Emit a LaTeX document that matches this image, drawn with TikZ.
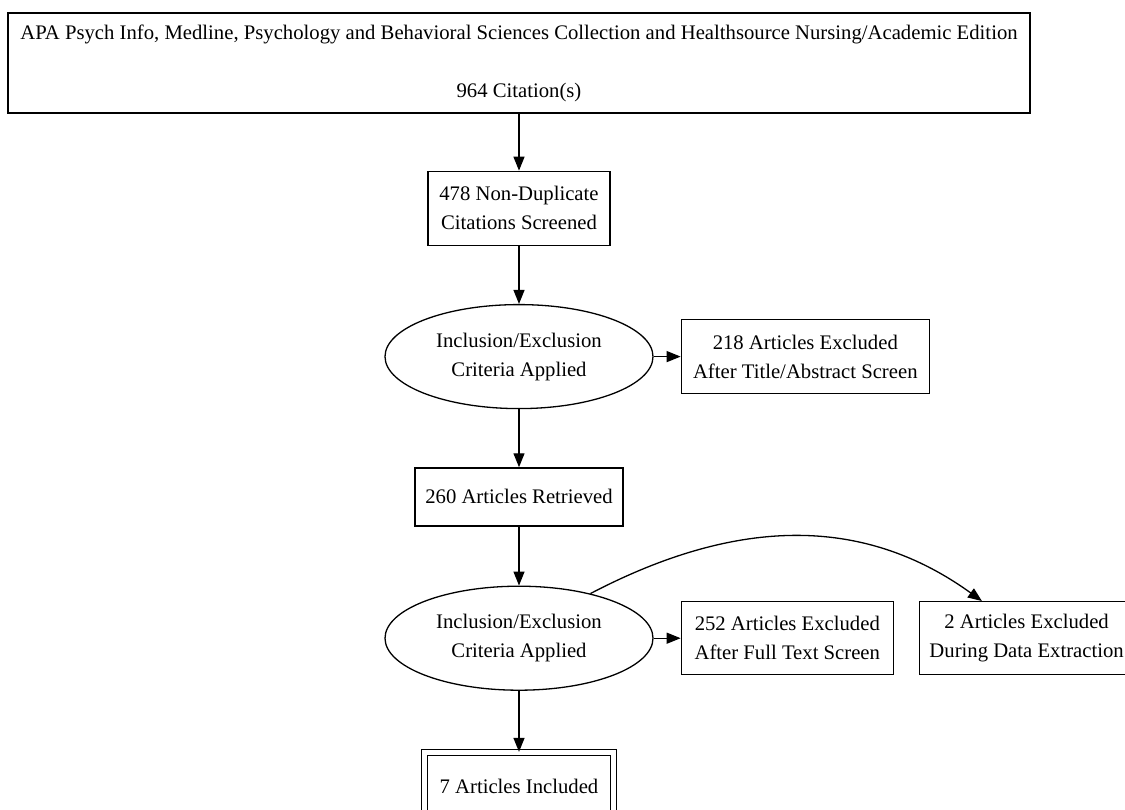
\documentclass[tikz,border=0pt]{standalone}
\usepackage{fontspec}
\setmainfont{Liberation Serif}
\usetikzlibrary{shapes,arrows.meta,positioning,calc}

\begin{document}
\begin{tikzpicture}[x=1pt, y=-1pt,
    font=\fontsize{20.7}{29}\selectfont,
    box/.style={rectangle, draw, line width=1.3pt, align=center, inner sep=0pt},
    crit/.style={ellipse, draw, line width=1.3pt, align=center, inner sep=0pt, minimum width=268pt, minimum height=104pt},
    arrow/.style={-{Triangle[length=14pt,width=11pt]}, line width=1.3pt}
]
    \useasboundingbox (0,0) rectangle (1125,810);
    \node[box, minimum width=1022pt, minimum height=100pt] (search) at (519,63) {APA Psych Info, Medline, Psychology and Behavioral Sciences Collection and Healthsource Nursing/Academic Edition\\[29pt]964 Citation(s)};
    \node[box, minimum width=182pt, minimum height=74pt, below=57pt of search] (screen) {478 Non-Duplicate\\Citations Screened};
    \node[crit, below=58pt of screen] (crit1) {Inclusion/Exclusion\\Criteria Applied};
    \node[box, minimum width=248pt, minimum height=74pt, right=27pt of crit1] (excl1) {218 Articles Excluded\\After Title/Abstract Screen};
    \node[box, minimum width=208pt, minimum height=58pt, below=58pt of crit1] (retr) {260 Articles Retrieved};
    \node[crit, below=59pt of retr] (crit2) {Inclusion/Exclusion\\Criteria Applied};
    \node[box, minimum width=212pt, minimum height=73pt, right=27pt of crit2] (excl2) {252 Articles Excluded\\After Full Text Screen};
    \node[box, minimum width=214pt, minimum height=73pt, right=25pt of excl2] (excl3) {2 Articles Excluded\\During Data Extraction};
    \node[box, double, double distance=4.5pt, minimum width=189pt, minimum height=68pt, below=61pt of crit2] (incl) {7 Articles Included};

    \draw[arrow] (search) -- (screen);
    \draw[arrow] (screen) -- (crit1);
    \draw[arrow] (crit1) -- (excl1);
    \draw[arrow] (crit1) -- (retr);
    \draw[arrow] (retr) -- (crit2);
    \draw[arrow] (crit2) -- (excl2);
    \draw[arrow] (crit2.32) .. controls (716,528) and (849,505) .. ([xshift=63pt]excl3.north west);
    \draw[arrow] (crit2) -- (incl);
\end{tikzpicture}
\end{document}
